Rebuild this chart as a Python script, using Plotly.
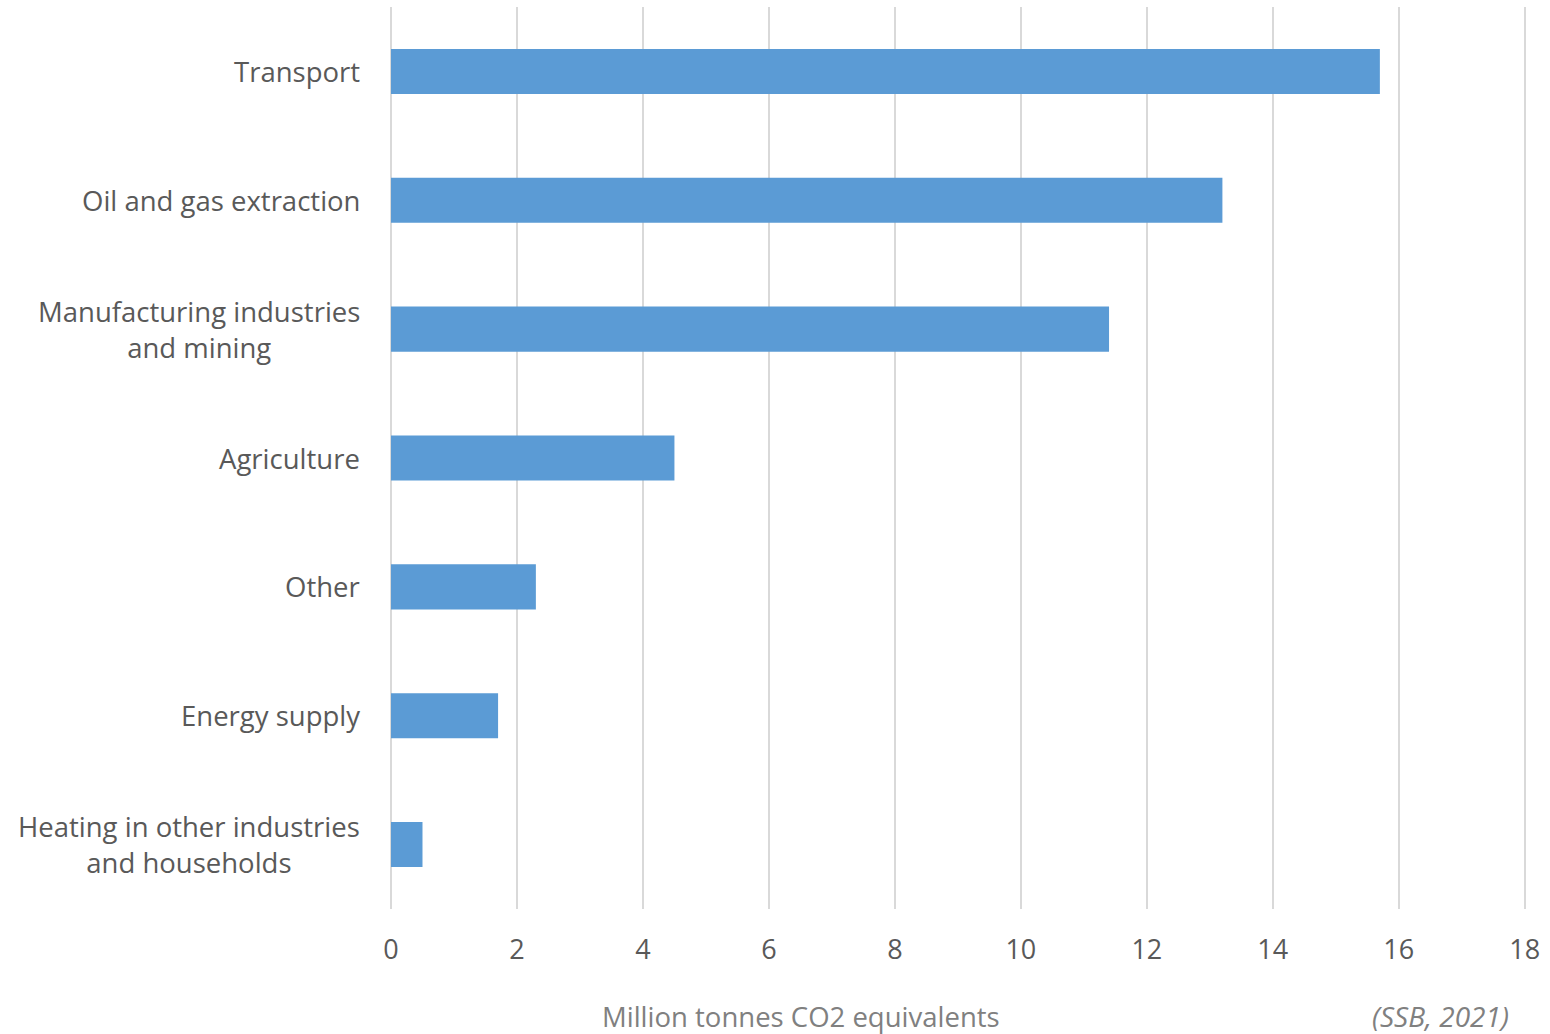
import plotly.graph_objects as go

categories = [
    "Transport",
    "Oil and gas extraction",
    "Manufacturing industries<br>and mining",
    "Agriculture",
    "Other",
    "Energy supply",
    "Heating in other industries<br>and households",
]
values = [15.7, 13.2, 11.4, 4.5, 2.3, 1.7, 0.5]
x_ticks = [0, 2, 4, 6, 8, 10, 12, 14, 16, 18]
x_title = "Million tonnes CO2 equivalents"
source = "(SSB, 2021)"

FONT = "Open Sans"

W, H = 1550, 1034
ml, mr, mt, mb = 391, 24, 7, 125
pw, ph = W - ml - mr, H - mt - mb

fig = go.Figure(
    go.Bar(
        x=values,
        y=categories,
        orientation="h",
        width=0.35,
        marker=dict(color="#5b9bd5", line=dict(width=0)),
        hoverinfo="x+y",
    )
)

annotations = []
for c in categories:
    annotations.append(dict(
        text=c, x=0, xref="paper", y=c, yref="y",
        xanchor="right", yanchor="middle", align="center",
        xshift=-29, showarrow=False,
        font=dict(family=FONT, size=27.5, color="#595959"),
    ))
annotations.append(dict(
    text=x_title, xref="paper", yref="paper",
    x=(801 - ml) / pw, y=(H - mb - 1016) / ph,
    xanchor="center", yanchor="middle",
    showarrow=False, font=dict(family=FONT, size=27.5, color="#808080"),
))
annotations.append(dict(
    text="<i>" + source + "</i>", xref="paper", yref="paper",
    x=(1511 - ml) / pw, y=(H - mb - 1016) / ph,
    xanchor="right", yanchor="middle",
    showarrow=False, font=dict(family=FONT, size=28, color="#808080"),
))

fig.update_layout(
    width=W, height=H,
    margin=dict(l=ml, r=mr, t=mt, b=mb, pad=0),
    plot_bgcolor="white", paper_bgcolor="white",
    showlegend=False,
    annotations=annotations,
    xaxis=dict(
        range=[0, 18.02], tickvals=x_ticks, ticktext=[str(t) for t in x_ticks],
        showgrid=True, gridcolor="#d9d9d9", gridwidth=2,
        zeroline=True, zerolinecolor="#d9d9d9", zerolinewidth=2,
        showline=False, ticks="",
        tickfont=dict(family=FONT, size=27, color="#595959"),
        ticklabelstandoff=22,
    ),
    yaxis=dict(
        categoryorder="array", categoryarray=categories[::-1],
        showticklabels=False, showgrid=False, zeroline=False, showline=False,
        ticks="",
    ),
)

fig.write_html("out.html")
